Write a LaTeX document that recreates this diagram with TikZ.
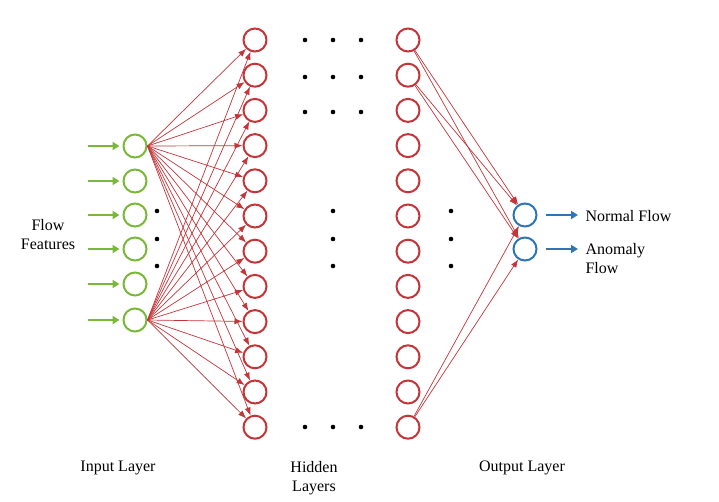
\documentclass[tikz,border=0pt]{standalone}
\usepackage{fontspec}
\setmainfont{Liberation Serif}
\usetikzlibrary{arrows.meta,positioning}
\definecolor{ingreen}{RGB}{122,184,58}
\definecolor{hidred}{RGB}{196,52,56}
\definecolor{outblue}{RGB}{46,117,182}

\begin{document}
\begin{tikzpicture}[x=1pt,y=-1pt,
    neuron/.style={circle,draw,line width=2pt,minimum size=23pt,inner sep=0pt},
    link/.style={hidred,line width=0.7pt,-{Latex[length=8pt,width=6pt]}},
    feed/.style={line width=2.6pt,-{Triangle[length=7pt,width=8pt]},shorten >=3pt},
    lbl/.style={font=\fontsize{16}{19}\selectfont,align=center}]
  \useasboundingbox (0,0) rectangle (719,501);
  % input layer
  \foreach \y [count=\n] in {146,181,215,249,284,320} {
    \node[neuron,ingreen] (i\n) at (135,\y) {};
    \coordinate (f\n) at (88,\y);
    \draw[feed,ingreen] (f\n) -- (i\n);
  }
  % hidden layers, first and last
  \foreach \n in {1,...,12} {
    \node[neuron,hidred] (h\n) at (255,{40+(\n-1)*35.2}) {};
    \node[neuron,hidred] (k\n) at (408,{40+(\n-1)*35.2}) {};
  }
  % output layer
  \node[neuron,outblue] (o1) at (525,215) {};
  \node[neuron,outblue] (o2) at (525,249) {};
  \coordinate (e1) at (578,215);
  \coordinate (e2) at (578,249);
  \draw[feed,outblue,shorten >=0pt] (o1.east) ++(8,0) coordinate (s1) -- (e1);
  \draw[feed,outblue,shorten >=0pt] (o2.east) ++(8,0) coordinate (s2) -- (e2);
  % connections
  \foreach \n in {1,...,12} {
    \draw[link] (i1.east) -- (h\n);
    \draw[link] (i6.east) -- (h\n);
  }
  \foreach \n in {1,2,12} {
    \draw[link] (k\n) -- (o1);
    \draw[link] (k\n) -- (o2);
  }
  % dots
  \foreach \x in {305,333,361} {
    \foreach \y in {40,77,112,427}
      \fill (\x,\y) circle (2.3pt);
  }
  \foreach \y in {211,239,266} {
    \fill (157,\y) circle (2.3pt);
    \fill (333,\y) circle (2.3pt);
    \fill (451,\y) circle (2.3pt);
  }
  % labels
  \node[lbl] (feat) at (48,235) {Flow\\Features};
  \node[lbl,anchor=west] (norm) at (582,216) {Normal Flow};
  \node[lbl,anchor=west,align=left] (anom) at (582,259) {Anomaly\\Flow};
  \node[lbl] (inl) at (118,468) {Input Layer};
  \node[lbl] (hidl) at (314,478) {Hidden\\Layers};
  \node[lbl] (outl) at (522,468) {Output Layer};
\end{tikzpicture}
\end{document}
